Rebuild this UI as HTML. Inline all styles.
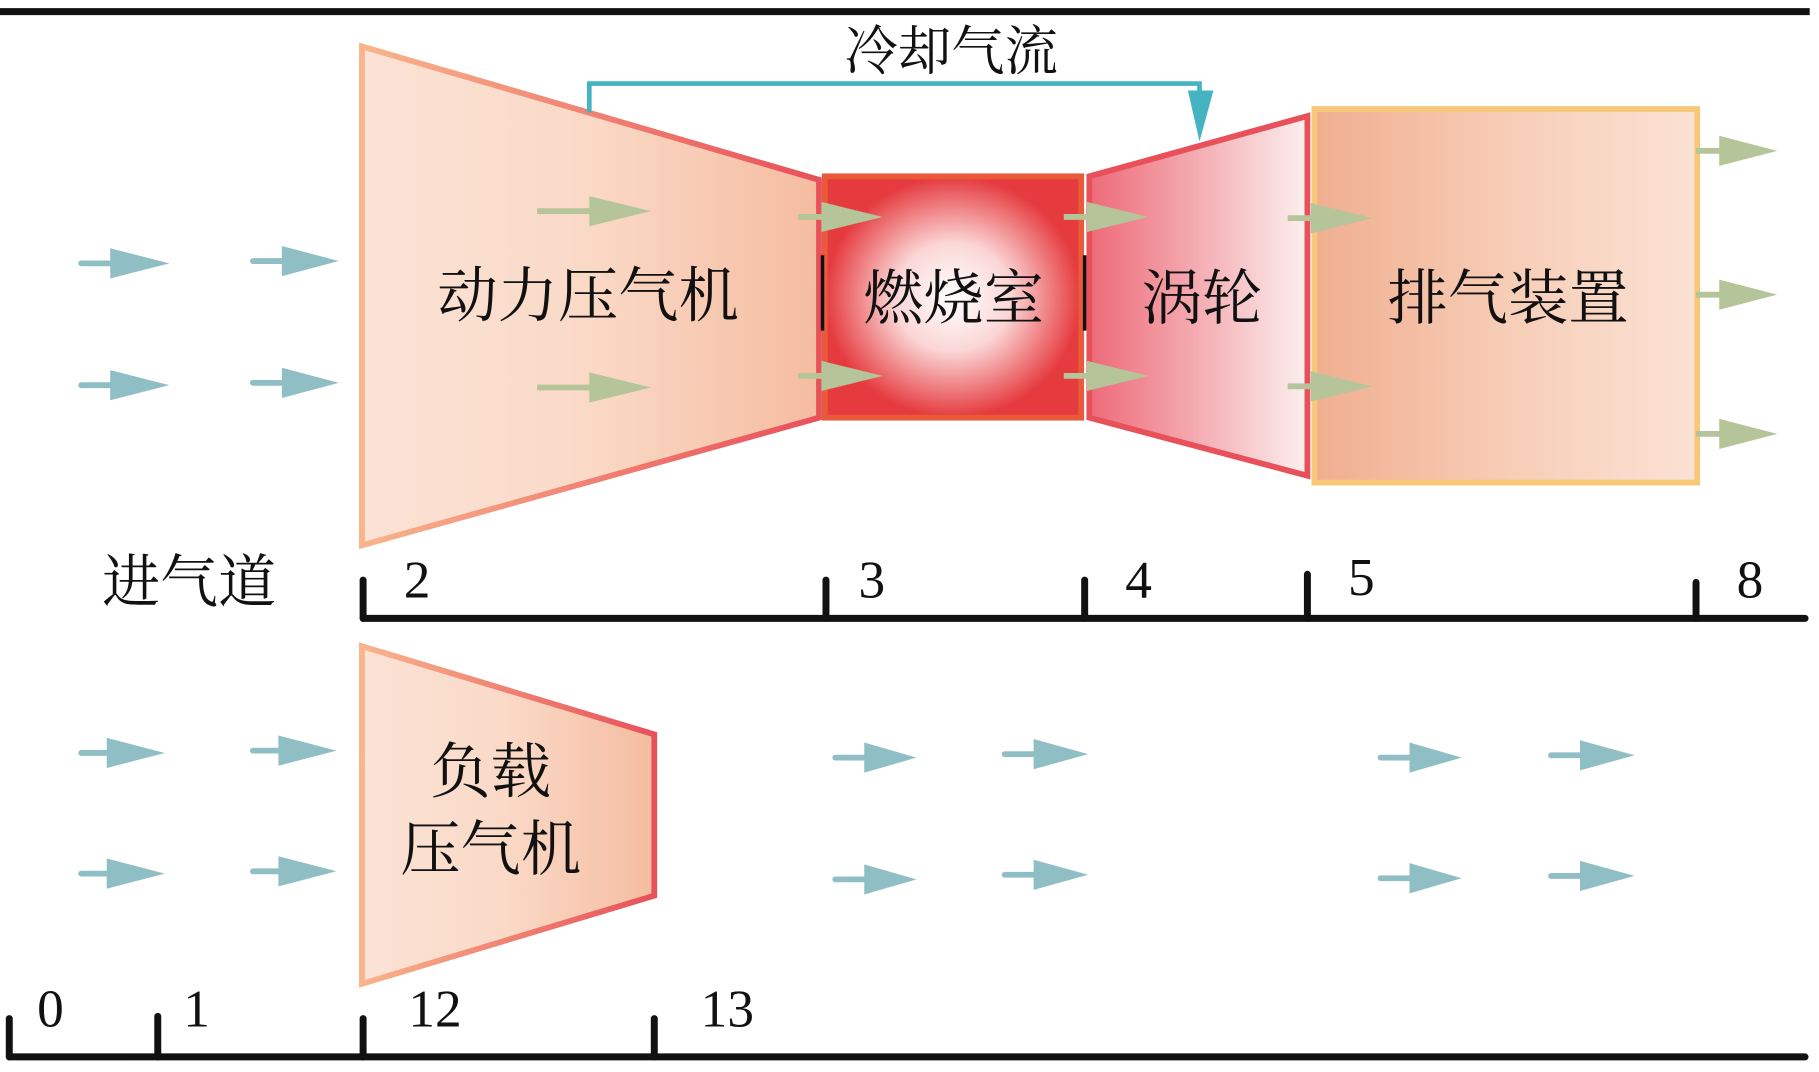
<!DOCTYPE html>
<html><head><meta charset="utf-8"><style>
html,body{margin:0;padding:0;background:#fff;}
svg{display:block;}
text{font-family:"Liberation Serif","Noto Serif CJK SC","Noto Sans CJK SC",serif;fill:#111;}
</style></head><body>
<svg width="1819" height="1072" viewBox="0 0 1568 924" preserveAspectRatio="none" xmlns="http://www.w3.org/2000/svg">
<defs>
<linearGradient id="gc" x1="0" x2="1"><stop offset="0" stop-color="#fbe3d6"/><stop offset="0.5" stop-color="#fad9c6"/><stop offset="1" stop-color="#f5bca0"/></linearGradient>
<linearGradient id="gcs" x1="0" x2="1"><stop offset="0" stop-color="#f9b48c"/><stop offset="1" stop-color="#e8505a"/></linearGradient>
<radialGradient id="gb"><stop offset="0" stop-color="#fff"/><stop offset="0.45" stop-color="#fbd6d6"/><stop offset="1" stop-color="#e53a3e"/></radialGradient>
<linearGradient id="gt" x1="0" x2="1"><stop offset="0" stop-color="#ee6a78"/><stop offset="1" stop-color="#fbf0ee"/></linearGradient>
<linearGradient id="ge" x1="0" x2="1"><stop offset="0" stop-color="#f0ae90"/><stop offset="0.5" stop-color="#f7cdb6"/><stop offset="1" stop-color="#fbe2d5"/></linearGradient>
</defs>
<line x1="0" y1="10" x2="1560" y2="10" stroke="#111" stroke-width="6"/>
<polygon points="312,40 706,155 706,360 312,470" fill="url(#gc)" stroke="url(#gcs)" stroke-width="5"/>
<rect x="711" y="152" width="221" height="208" fill="url(#gb)" stroke="#e85a3a" stroke-width="5"/>
<line x1="709" y1="220" x2="709" y2="285" stroke="#111" stroke-width="3"/>
<line x1="935" y1="220" x2="935" y2="285" stroke="#111" stroke-width="3"/>
<polygon points="939,152 1127,100 1127,410 939,360" fill="url(#gt)" stroke="#e8505a" stroke-width="5"/>
<rect x="1133" y="94" width="330" height="322" fill="url(#ge)" stroke="#f7c87a" stroke-width="5"/>
<polyline points="508,97 508,72 1034,72 1034,90" fill="none" stroke="#45b3c0" stroke-width="4"/>
<polygon points="1024,78 1046,78 1034,122" fill="#45b3c0"/>
<text x="820" y="60" font-size="46" text-anchor="middle">冷却气流</text>
<g fill="#b5c499" stroke="#b5c499" stroke-width="5">
<g transform="translate(463,182)"><line x1="0" y1="0" x2="50" y2="0"/><polygon points="45,-13 45,13 98,0" stroke="none"/></g>
<g transform="translate(463,334)"><line x1="0" y1="0" x2="50" y2="0"/><polygon points="45,-13 45,13 98,0" stroke="none"/></g>
<g transform="translate(688,187)"><line x1="0" y1="0" x2="25" y2="0"/><polygon points="20,-13 20,13 73,0" stroke="none"/></g>
<g transform="translate(688,324)"><line x1="0" y1="0" x2="25" y2="0"/><polygon points="20,-13 20,13 73,0" stroke="none"/></g>
<g transform="translate(917,187)"><line x1="0" y1="0" x2="25" y2="0"/><polygon points="20,-13 20,13 73,0" stroke="none"/></g>
<g transform="translate(917,324)"><line x1="0" y1="0" x2="25" y2="0"/><polygon points="20,-13 20,13 73,0" stroke="none"/></g>
<g transform="translate(1110,188)"><line x1="0" y1="0" x2="25" y2="0"/><polygon points="20,-13 20,13 73,0" stroke="none"/></g>
<g transform="translate(1110,333)"><line x1="0" y1="0" x2="25" y2="0"/><polygon points="20,-13 20,13 73,0" stroke="none"/></g>
<g transform="translate(1462,130)"><line x1="0" y1="0" x2="25" y2="0"/><polygon points="20,-13 20,13 70,0" stroke="none"/></g>
<g transform="translate(1462,254)"><line x1="0" y1="0" x2="25" y2="0"/><polygon points="20,-13 20,13 70,0" stroke="none"/></g>
<g transform="translate(1462,374)"><line x1="0" y1="0" x2="25" y2="0"/><polygon points="20,-13 20,13 70,0" stroke="none"/></g>
</g>
<g fill="#8fbfc4" stroke="#8fbfc4" stroke-width="5" stroke-linecap="round">
<g transform="translate(70,227)"><line x1="0" y1="0" x2="28" y2="0"/><polygon points="25,-13 25,13 76,0" stroke="none"/></g>
<g transform="translate(218,225)"><line x1="0" y1="0" x2="28" y2="0"/><polygon points="25,-13 25,13 74,0" stroke="none"/></g>
<g transform="translate(70,332)"><line x1="0" y1="0" x2="28" y2="0"/><polygon points="25,-13 25,13 76,0" stroke="none"/></g>
<g transform="translate(218,330)"><line x1="0" y1="0" x2="28" y2="0"/><polygon points="25,-13 25,13 74,0" stroke="none"/></g>
<g transform="translate(70,649)"><line x1="0" y1="0" x2="25" y2="0"/><polygon points="22,-13 22,13 72,0" stroke="none"/></g>
<g transform="translate(218,647)"><line x1="0" y1="0" x2="25" y2="0"/><polygon points="22,-13 22,13 72,0" stroke="none"/></g>
<g transform="translate(70,753)"><line x1="0" y1="0" x2="25" y2="0"/><polygon points="22,-13 22,13 72,0" stroke="none"/></g>
<g transform="translate(218,751)"><line x1="0" y1="0" x2="25" y2="0"/><polygon points="22,-13 22,13 72,0" stroke="none"/></g>
<g transform="translate(720,653)"><line x1="0" y1="0" x2="25" y2="0"/><polygon points="25,-13 25,13 70,0" stroke="none"/></g>
<g transform="translate(866,650)"><line x1="0" y1="0" x2="25" y2="0"/><polygon points="25,-13 25,13 72,0" stroke="none"/></g>
<g transform="translate(720,758)"><line x1="0" y1="0" x2="25" y2="0"/><polygon points="25,-13 25,13 70,0" stroke="none"/></g>
<g transform="translate(866,754)"><line x1="0" y1="0" x2="25" y2="0"/><polygon points="25,-13 25,13 72,0" stroke="none"/></g>
<g transform="translate(1190,653)"><line x1="0" y1="0" x2="25" y2="0"/><polygon points="25,-13 25,13 70,0" stroke="none"/></g>
<g transform="translate(1337,651)"><line x1="0" y1="0" x2="25" y2="0"/><polygon points="25,-13 25,13 72,0" stroke="none"/></g>
<g transform="translate(1190,757)"><line x1="0" y1="0" x2="25" y2="0"/><polygon points="25,-13 25,13 70,0" stroke="none"/></g>
<g transform="translate(1337,755)"><line x1="0" y1="0" x2="25" y2="0"/><polygon points="25,-13 25,13 72,0" stroke="none"/></g>
</g>
<text x="507" y="273" font-size="52" text-anchor="middle">动力压气机</text>
<text x="822" y="275" font-size="52" text-anchor="middle">燃烧室</text>
<text x="1036" y="275" font-size="52" text-anchor="middle">涡轮</text>
<text x="1300" y="275" font-size="52" text-anchor="middle">排气装置</text>
<text x="163" y="519" font-size="50" text-anchor="middle">进气道</text>
<g stroke="#111" stroke-width="6" stroke-linecap="round">
<line x1="313" y1="533" x2="1556" y2="533"/>
<line x1="313" y1="500" x2="313" y2="533"/>
<line x1="712" y1="500" x2="712" y2="533"/>
<line x1="935" y1="500" x2="935" y2="533"/>
<line x1="1127" y1="495" x2="1127" y2="533"/>
<line x1="1462" y1="502" x2="1462" y2="533"/>
</g>
<g font-size="46">
<text x="348" y="515">2</text><text x="740" y="515">3</text><text x="970" y="515">4</text><text x="1162" y="513">5</text><text x="1497" y="515">8</text>
</g>
<polygon points="312,557 564,633 564,772 312,848" fill="url(#gc)" stroke="url(#gcs)" stroke-width="5"/>
<text x="423" y="683" font-size="52" text-anchor="middle">负载</text>
<text x="423" y="750" font-size="52" text-anchor="middle">压气机</text>
<g stroke="#111" stroke-width="6" stroke-linecap="round">
<line x1="8" y1="911" x2="1556" y2="911"/>
<line x1="8" y1="878" x2="8" y2="911"/>
<line x1="136" y1="876" x2="136" y2="911"/>
<line x1="313" y1="878" x2="313" y2="911"/>
<line x1="564" y1="878" x2="564" y2="911"/>
</g>
<g font-size="46">
<text x="32" y="885">0</text><text x="158" y="885">1</text><text x="352" y="885">12</text><text x="604" y="885">13</text>
</g>
</svg>
</body></html>
